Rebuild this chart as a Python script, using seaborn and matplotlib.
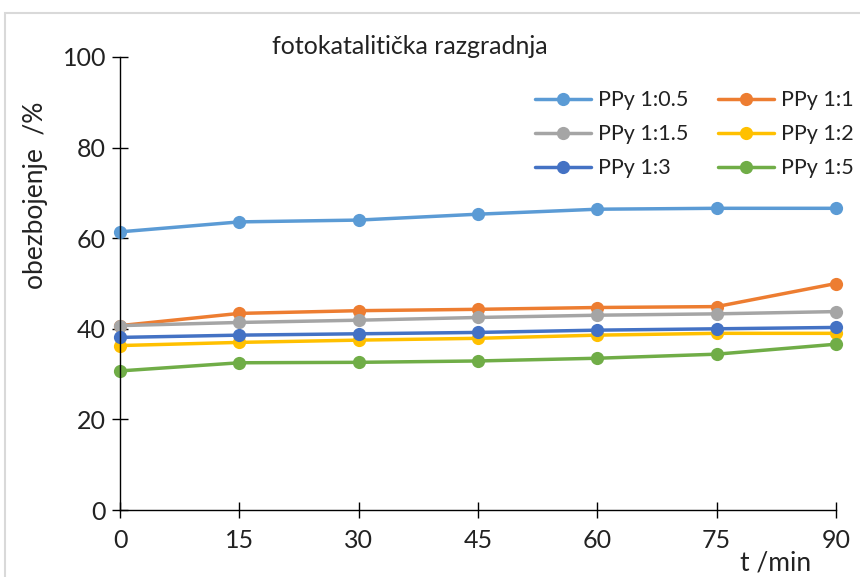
import matplotlib
matplotlib.use("Agg")
import matplotlib.pyplot as plt
import seaborn as sns
import pandas as pd
from matplotlib.patches import Rectangle

t_min = [0, 15, 30, 45, 60, 75, 90]
ppy_1_05 = [61.4, 63.6, 64.0, 65.3, 66.4, 66.6, 66.6]
ppy_1_1 = [40.7, 43.4, 44.0, 44.3, 44.7, 44.9, 50.0]
ppy_1_15 = [40.7, 41.4, 41.9, 42.5, 43.0, 43.3, 43.8]
ppy_1_2 = [36.3, 37.0, 37.5, 37.9, 38.6, 39.0, 39.0]
ppy_1_3 = [38.1, 38.6, 38.9, 39.2, 39.7, 40.0, 40.3]
ppy_1_5 = [30.7, 32.5, 32.6, 32.9, 33.5, 34.4, 36.6]

labels = ["PPy 1:0.5", "PPy 1:1", "PPy 1:1.5", "PPy 1:2", "PPy 1:3", "PPy 1:5"]
series = [ppy_1_05, ppy_1_1, ppy_1_15, ppy_1_2, ppy_1_3, ppy_1_5]
colors = ["#5B9BD5", "#ED7D31", "#A5A5A5", "#FFC000", "#4472C4", "#70AD47"]
y_ticks = [0, 20, 40, 60, 80, 100]
x_ticks = [0, 15, 30, 45, 60, 75, 90]

df = pd.concat([pd.DataFrame({"t": t_min, "v": s, "serija": l}) for s, l in zip(series, labels)])

sns.set_theme(style="white")
plt.rcParams["font.family"] = ["Lato", "DejaVu Sans"]

fig = plt.figure(figsize=(8.6, 5.77), dpi=100)
ax = fig.add_axes([120/860, 1-510/577, (836-120)/860, (510-57)/577])

sns.lineplot(data=df, x="t", y="v", hue="serija", hue_order=labels, palette=colors,
             marker="o", markersize=9.5, markeredgewidth=0, linewidth=2.5, ax=ax, legend=True)

ax.set_xlim(0, 90)
ax.set_ylim(0, 100)
ax.set_xticks(x_ticks)
ax.set_yticks(y_ticks)
ax.tick_params(axis="both", which="major", direction="inout", length=12, width=1,
               color="black", labelsize=18, labelcolor="#222222", pad=4, bottom=True, left=True)
ax.tick_params(axis="x", pad=8)
for side in ["top", "right"]:
    ax.spines[side].set_visible(False)
for side in ["left", "bottom"]:
    ax.spines[side].set_color("black")
    ax.spines[side].set_linewidth(1)
for ln in ax.lines:
    ln.set_clip_on(False)

ax.set_xlabel("")
ax.set_ylabel("")
fig.text(36/860, 1-195/577, "obezbojenje  /%", fontsize=19, color="#222222", ha="center",
         va="center", rotation=90)
fig.text(776/860, 1-563/577, "t /min", fontsize=19, color="#222222", ha="center", va="center")
fig.text(410/860, 1-47/577, "fotokatalitička razgradnja", fontsize=18, color="#222222",
         ha="center", va="center")

handles, hl = ax.get_legend_handles_labels()
order = [0, 2, 4, 1, 3, 5]
ax.legend([handles[i] for i in order], [hl[i] for i in order], ncol=2, loc="upper left",
          bbox_to_anchor=(516/860, 1-71/577), bbox_transform=fig.transFigure, frameon=False,
          fontsize=15.5, handlelength=2.6, labelspacing=0.65, columnspacing=1.4,
          handletextpad=0.3, labelcolor="#222222")

fig.patches.append(Rectangle((5/860, -0.01), 1.0, 1-13/577+0.01, transform=fig.transFigure,
                             fill=False, edgecolor="#d9d9d9", linewidth=1.5))

fig.savefig("out.png", dpi=100)
